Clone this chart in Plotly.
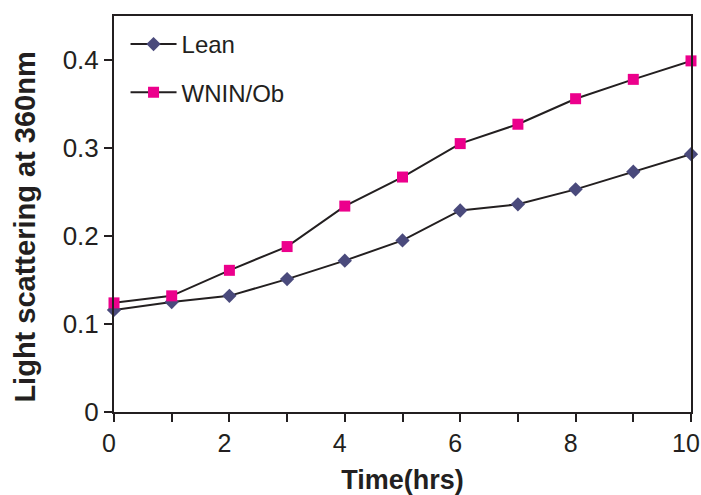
import plotly.graph_objects as go

# Time points (hours)
hours = [0, 1, 2, 3, 4, 5, 6, 7, 8, 9, 10]

# Light scattering at 360 nm for each group
lean = [0.116, 0.125, 0.132, 0.151, 0.172, 0.195, 0.229, 0.236, 0.253, 0.273, 0.293]
wnin_ob = [0.124, 0.132, 0.161, 0.188, 0.234, 0.267, 0.305, 0.327, 0.356, 0.378, 0.399]

x_tick_vals = [0, 1, 2, 3, 4, 5, 6, 7, 8, 9, 10]
x_tick_text = ["0", "", "2", "", "4", "", "6", "", "8", "", "10"]
y_tick_vals = [0, 0.1, 0.2, 0.3, 0.4]
y_tick_text = ["0", "0.1", "0.2", "0.3", "0.4"]

INK = "#231f20"
SANS = "Liberation Sans, Arial, sans-serif"

fig = go.Figure()
fig.add_trace(go.Scatter(
    x=hours, y=lean, name="Lean", mode="lines+markers",
    line=dict(color=INK, width=2),
    marker=dict(symbol="diamond", size=11, color="#4a4a7c"),
    cliponaxis=False, legendgroup="a",
))
fig.add_trace(go.Scatter(
    x=hours, y=wnin_ob, name="WNIN/Ob", mode="lines+markers",
    line=dict(color=INK, width=2),
    marker=dict(symbol="square", size=11, color="#ec008c"),
    cliponaxis=False, legendgroup="b",
))

# Vertical axis title placed as a rotated annotation
fig.add_annotation(
    text="<b>Light scattering at 360nm</b>", textangle=-90,
    xref="paper", yref="paper", x=-0.154, y=0.466,
    xanchor="center", yanchor="middle", showarrow=False,
    font=dict(family=SANS, size=29, color=INK),
)

fig.update_layout(
    width=701, height=495,
    margin=dict(l=114, r=10, t=16, b=83, autoexpand=False),
    paper_bgcolor="white", plot_bgcolor="white",
    showlegend=True,
    legend=dict(
        x=0.02, y=0.985, xanchor="left", yanchor="top",
        bgcolor="rgba(0,0,0,0)",
        font=dict(family=SANS, size=24, color=INK),
        itemwidth=46, tracegroupgap=14, traceorder="grouped",
    ),
    xaxis=dict(
        range=[0, 10], tickmode="array", tickvals=x_tick_vals, ticktext=x_tick_text,
        showline=True, linecolor=INK, linewidth=2, mirror=True,
        ticks="outside", ticklen=8, tickwidth=2, tickcolor=INK,
        showgrid=False, zeroline=False, ticklabeloverflow="allow", automargin=False,
        ticklabelshift=-5,
        tickfont=dict(family=SANS, size=25, color=INK),
        title=dict(text="<b>Time(hrs)</b>", font=dict(family=SANS, size=27, color=INK), standoff=22),
    ),
    yaxis=dict(
        range=[0, 0.45], tickmode="array", tickvals=y_tick_vals, ticktext=y_tick_text,
        showline=True, linecolor=INK, linewidth=2, mirror=True, automargin=False,
        ticks="outside", ticklen=8, tickwidth=2, tickcolor=INK,
        showgrid=False, zeroline=False,
        tickfont=dict(family=SANS, size=26, color=INK),
    ),
)

fig.write_html("out.html")
